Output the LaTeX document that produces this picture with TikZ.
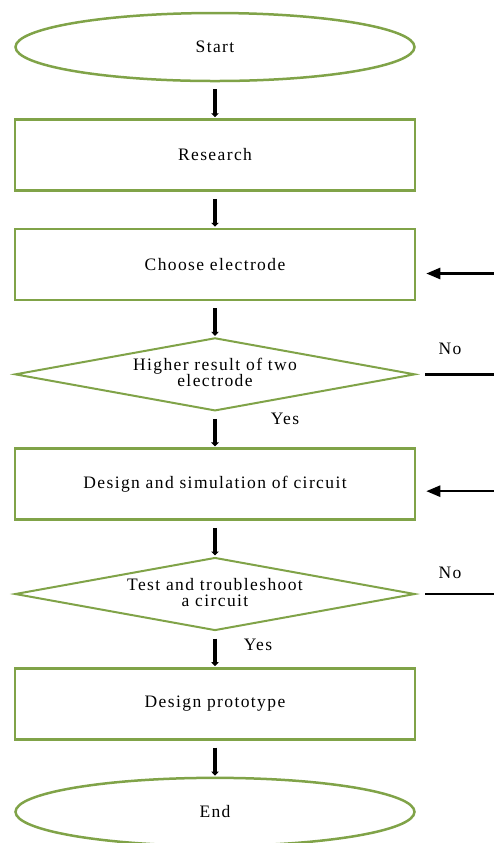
\documentclass[tikz,border=0pt]{standalone}
\usepackage{fontspec}
\setmainfont{Liberation Serif}
\newfontfamily\flowfont[LetterSpace=8]{Liberation Serif}
\usepackage{tikz}
\usetikzlibrary{arrows.meta}
\usetikzlibrary{calc}
\usetikzlibrary{matrix}
\usetikzlibrary{shapes.geometric}
\definecolor{boxgreen}{RGB}{128,163,72}
\tikzstyle{term}=[ellipse,draw=boxgreen,line width=2.5pt,minimum width=399pt,minimum height=68pt]
\tikzstyle{proc}=[rectangle,draw=boxgreen,line width=2.5pt,minimum width=400pt,minimum height=71pt]
\tikzstyle{test}=[diamond,draw=boxgreen,line width=2pt,aspect=5.4,minimum width=400pt,minimum height=73pt,inner sep=0pt]
\tikzstyle{flow}=[line width=4.5pt,-{Triangle[length=4pt,width=7.5pt]},shorten <=7pt,shorten >=1pt]
\tikzstyle{back}=[line width=2.5pt,-{Triangle[length=14pt,width=11pt]},shorten >=10pt]
\tikzstyle{side}=[line width=2.5pt,shorten <=9pt]
\newcommand\twolines[2]{\begin{tabular}{@{}c@{}}#1\\[-4pt]#2\end{tabular}}

\begin{document}
\begin{tikzpicture}[x=1pt,y=1pt,font=\flowfont\fontsize{17.5}{20}\selectfont]
	\useasboundingbox (0,0) rectangle (494,-843);
	\matrix [matrix of nodes,row sep=36pt,matrix anchor=m-1-1.center] (m) at (215,-47) {
	  		|[term]| Start
	\\		|[proc]| Research
	\\		|[proc]| Choose electrode
	\\		|[test]| \twolines{Higher result of two}{electrode}
	\\		|[proc]| Design and simulation of circuit
	\\		|[test]| \twolines{Test and troubleshoot}{a circuit}
	\\		|[proc]| Design prototype
	\\		|[term]| End
	\\ };
	\draw[flow] (m-1-1) -- (m-2-1);
	\draw[flow] (m-2-1) -- (m-3-1);
	\draw[flow] (m-3-1) -- (m-4-1);
	\draw[flow] (m-4-1) -- (m-5-1);
	\draw[flow] (m-5-1) -- (m-6-1);
	\draw[flow] (m-6-1) -- (m-7-1);
	\draw[flow] (m-7-1) -- (m-8-1);
	% loops back from the right
	\coordinate (c1) at ($(m-3-1.east)+(80,-9)$);
	\coordinate (c2) at ($(m-5-1.east)+(80,-7)$);
	\coordinate (d1) at ($(m-4-1.east)+(80,0)$);
	\coordinate (d2) at ($(m-6-1.east)+(80,0)$);
	\draw[back] (c1) -- (c1 -| m-3-1.east);
	\draw[back] (c2) -- (c2 -| m-5-1.east);
	\draw[side] (m-4-1.east) -- (d1);
	\draw[side] (m-6-1.east) -- (d2);
	\node (no1) at ($(m-4-1.east)+(34,25)$) {No};
	\node (no2) at ($(m-6-1.east)+(34,21)$) {No};
	\node (yes1) at ($(m-4-1.south)+(70,-7)$) {Yes};
	\node (yes2) at ($(m-6-1.south)+(43,-13)$) {Yes};
\end{tikzpicture}
\end{document}
